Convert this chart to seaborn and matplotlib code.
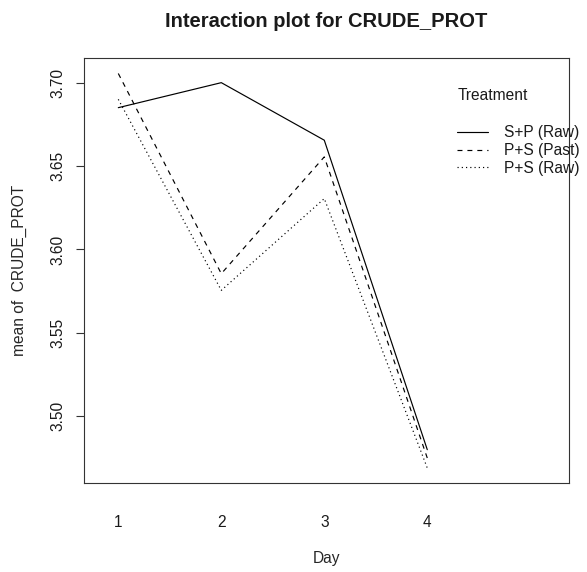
import matplotlib
matplotlib.use("Agg")
import matplotlib.pyplot as plt
import seaborn as sns
import pandas as pd

days = [1, 2, 3, 4]
treatments = ["S+P (Raw)", "P+S (Past)", "P+S (Raw)"]
sp_raw = [3.685, 3.700, 3.6655, 3.480]
ps_past = [3.7055, 3.5855, 3.6555, 3.475]
ps_raw = [3.690, 3.5755, 3.6305, 3.469]
y_ticks = [3.50, 3.55, 3.60, 3.65, 3.70]
x_labels = ["1", "2", "3", "4"]

rows = []
for name, vals in zip(treatments, [sp_raw, ps_past, ps_raw]):
    for d, v in zip(days, vals):
        rows.append({"Day": d, "mean": v, "Treatment": name})
df = pd.DataFrame(rows)

sns.set_theme(style="white")
plt.rcParams["font.family"] = ["Liberation Sans", "DejaVu Sans"]
plt.rcParams["text.color"] = "#1a1a1a"

W, H = 587, 572
fig = plt.figure(figsize=(W / 100, H / 100), dpi=100)
L, R, T, B = 84, 569, 58.3, 482.7
ax = fig.add_axes([L / W, 1 - B / H, (R - L) / W, (B - T) / H])

lw = 0.85
sns.lineplot(
    data=df, x="Day", y="mean", style="Treatment", style_order=treatments,
    dashes={"S+P (Raw)": "", "P+S (Past)": (4.2, 4.2), "P+S (Raw)": (1.0, 2.6)},
    color="black", linewidth=lw, ax=ax, legend="auto", estimator=None,
)

ax.set_xlim(0.667, 5.376)
ax.set_ylim(3.4602, 3.7146)
ax.set_xticks(days)
ax.set_xticklabels(x_labels)
ax.set_yticks(y_ticks)
ax.set_yticklabels([f"{v:.2f}" for v in y_ticks], rotation=90, va="center")

fs = 11.2
ax.tick_params(axis="x", bottom=False, length=0, pad=23, labelsize=fs, labelcolor="#1a1a1a")
ax.tick_params(axis="y", left=True, length=5.8, width=0.8, color="#333333",
               pad=7.5, labelsize=fs, labelcolor="#1a1a1a")
for s in ax.spines.values():
    s.set_visible(True)
    s.set_color("#333333")
    s.set_linewidth(0.8)

ax.set_xlabel("Day", fontsize=fs)
ax.set_ylabel("mean of  CRUDE_PROT", fontsize=fs)
ax.xaxis.set_label_coords(0.5, (B - 551) / (B - T))
ax.yaxis.set_label_coords((27 - L) / (R - L), 0.5)

ax.set_title("Interaction plot for CRUDE_PROT", fontsize=14.5, fontweight="bold", pad=22.3)

sns.move_legend(
    ax, "upper left", bbox_to_anchor=(457 / W, 1 - 125.5 / H), bbox_transform=fig.transFigure,
    frameon=False, title=None, fontsize=fs, handlelength=2.0, handletextpad=1.0,
    labelspacing=0.17, borderpad=0, borderaxespad=0,
)
fig.text(458 / W, 1 - 96 / H, "Treatment", fontsize=fs, ha="left", va="center")

fig.savefig("out.png", dpi=100)
